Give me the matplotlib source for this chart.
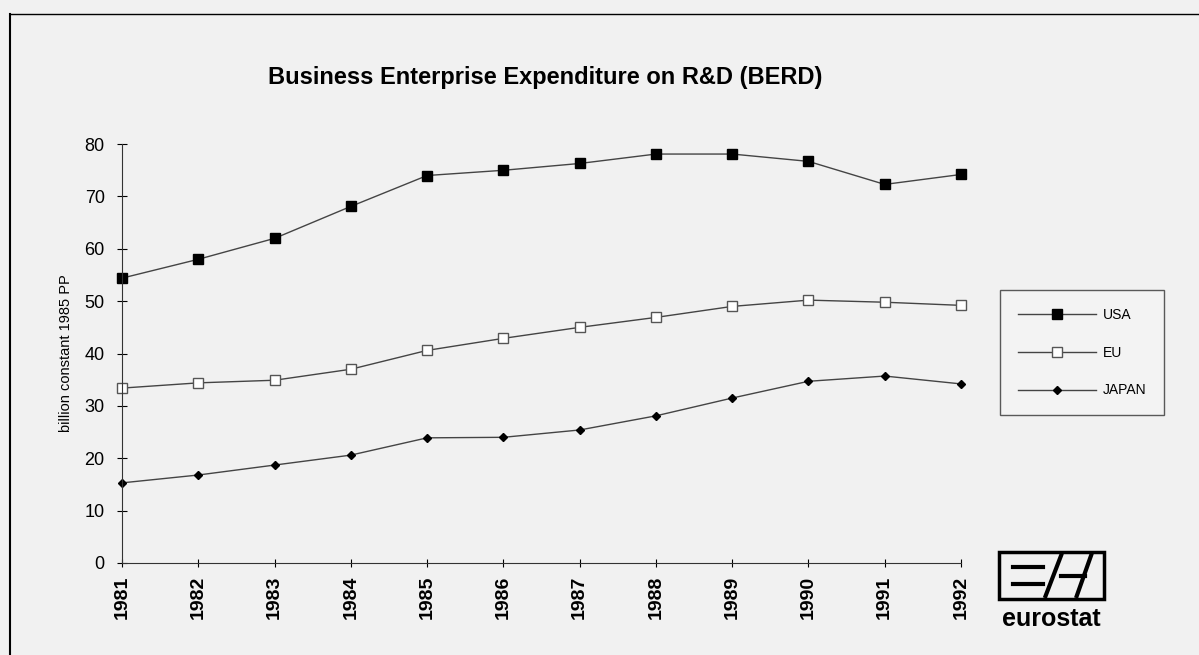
import matplotlib.pyplot as plt
from matplotlib.patches import Rectangle
from matplotlib.lines import Line2D

# -----------------------------
# DATA
# -----------------------------
years = [1981, 1982, 1983, 1984, 1985, 1986, 1987, 1988, 1989, 1990, 1991, 1992]
usa = [54.4, 58.0, 62.0, 68.1, 74.0, 75.0, 76.3, 78.1, 78.1, 76.7, 72.3, 74.2]
eu = [33.4, 34.4, 34.9, 37.0, 40.6, 42.9, 45.0, 46.9, 49.0, 50.2, 49.8, 49.2]
japan = [15.3, 16.8, 18.7, 20.6, 23.9, 24.0, 25.4, 28.1, 31.5, 34.7, 35.7, 34.2]
y_ticks = [0, 10, 20, 30, 40, 50, 60, 70, 80]

plt.rcParams['font.family'] = ['Liberation Sans', 'DejaVu Sans']

fig = plt.figure(figsize=(11.99, 6.55), dpi=100)
fig.patch.set_facecolor('#f1f1f1')

# frame of the scanned chart
fig.add_artist(Line2D([0.008, 0.008], [0, 0.979], color='black', lw=1.5))
fig.add_artist(Line2D([0.008, 1.0], [0.979, 0.979], color='black', lw=1.0))

ax = fig.add_axes([0.1018, 0.1405, 0.6997, 0.6395])
ax.set_facecolor('none')

line_kw = dict(color='#444444', lw=1.0, clip_on=False)
ax.plot(years, usa, marker='s', ms=6.5, mfc='black', mec='black', label='USA', **line_kw)
ax.plot(years, eu, marker='s', ms=6.5, mfc='white', mec='#555555', label='EU', **line_kw)
ax.plot(years, japan, marker='D', ms=4.5, mfc='black', mec='black', label='JAPAN', **line_kw)

ax.set_xlim(years[0], years[-1])
ax.set_ylim(0, 80)
ax.set_yticks(y_ticks)
ax.set_xticks(years)
ax.set_xticklabels([str(y) for y in years], rotation=90, fontsize=14, fontweight='bold')
ax.tick_params(axis='y', labelsize=13, direction='inout', length=7, pad=9)
ax.tick_params(axis='x', direction='inout', length=6, pad=6)
for s in ['top', 'right']:
    ax.spines[s].set_visible(False)
ax.spines['left'].set_color('#333333')
ax.spines['bottom'].set_color('#333333')

ax.set_ylabel('billion constant 1985 PP', fontsize=10.5, labelpad=8)

fig.text(0.455, 0.882, 'Business Enterprise Expenditure on R&D (BERD)',
         ha='center', va='center', fontsize=17, fontweight='bold')

leg = ax.legend(loc='upper left', bbox_to_anchor=(0.834, 0.557),
                bbox_transform=fig.transFigure, borderaxespad=0, frameon=True,
                fancybox=False, edgecolor='#333333', facecolor='#f4f4f4',
                fontsize=10, handlelength=5.6, labelspacing=1.7,
                borderpad=1.3, handletextpad=0.5)
leg.get_frame().set_linewidth(1.0)

# eurostat logo
fig.add_artist(Rectangle((0.833, 0.085), 0.088, 0.073, transform=fig.transFigure,
                         fill=False, lw=2.5, ec='black'))
fig.add_artist(Line2D([0.845, 0.87], [0.135, 0.135], color='black', lw=3))
fig.add_artist(Line2D([0.845, 0.87], [0.108, 0.108], color='black', lw=3))
fig.add_artist(Line2D([0.872, 0.885], [0.09, 0.152], color='black', lw=3))
fig.add_artist(Line2D([0.885, 0.905], [0.12, 0.12], color='black', lw=3))
fig.add_artist(Line2D([0.898, 0.91], [0.09, 0.152], color='black', lw=3))
fig.text(0.877, 0.055, 'eurostat', ha='center', va='center', fontsize=18, fontweight='bold')

fig.savefig('out.png', dpi=100, facecolor=fig.get_facecolor())
